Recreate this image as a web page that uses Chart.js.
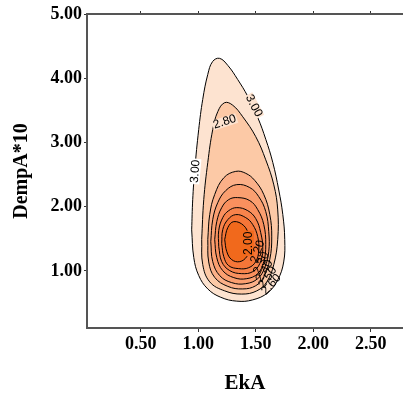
<!DOCTYPE html>
<html>
<head>
<meta charset="utf-8">
<script src="https://cdn.jsdelivr.net/npm/chart.js@4.4.1/dist/chart.umd.min.js"></script>
<style>
  html, body { margin: 0; padding: 0; background: #fff; }
  canvas { display: block; }
</style>
</head>
<body>
<canvas id="contour" width="403" height="398"></canvas>
<script>
const xTicks = [0.5, 1.0, 1.5, 2.0, 2.5];
const yTicks = [1, 2, 3, 4, 5];
const levels = ["3.00", "2.80", "2.60", "2.50", "2.40", "2.30", "2.20", "2.00"];

// contour outlines, outer to inner, [EkA, DempA*10]
const c300 = [[0.943,1.64],[0.952,2.11],[0.970,2.58],[1.004,3.20],[1.039,3.67],[1.083,4.06],[1.125,4.26],[1.185,4.31],[1.257,4.20],[1.343,3.98],[1.430,3.72],[1.517,3.39],[1.587,3.05],[1.648,2.69],[1.700,2.26],[1.735,1.88],[1.752,1.49],[1.743,1.14],[1.691,0.86],[1.604,0.66],[1.474,0.55],[1.335,0.53],[1.196,0.59],[1.083,0.72],[1.004,0.93],[0.961,1.21],[0.943,1.64]];
const c280 = [[1.030,1.49],[1.048,2.11],[1.083,2.69],[1.126,3.20],[1.170,3.48],[1.230,3.62],[1.300,3.58],[1.387,3.40],[1.500,3.09],[1.587,2.73],[1.657,2.34],[1.691,1.95],[1.691,1.49],[1.657,1.10],[1.596,0.83],[1.509,0.69],[1.378,0.64],[1.230,0.69],[1.100,0.83],[1.039,1.10],[1.030,1.49]];
const c260 = [[1.083,1.49],[1.100,1.88],[1.143,2.19],[1.222,2.45],[1.326,2.55],[1.413,2.52],[1.491,2.41],[1.570,2.19],[1.622,1.88],[1.639,1.53],[1.622,1.18],[1.570,0.91],[1.500,0.77],[1.387,0.72],[1.257,0.76],[1.143,0.90],[1.091,1.14],[1.083,1.49]];
const c250 = [[1.109,1.456],[1.126,1.799],[1.170,2.064],[1.239,2.251],[1.335,2.344],[1.448,2.298],[1.526,2.157],[1.587,1.924],[1.613,1.612],[1.613,1.301],[1.578,1.051],[1.517,0.880],[1.413,0.802],[1.291,0.818],[1.187,0.927],[1.126,1.145],[1.109,1.456]];
const c240 = [[1.143,1.488],[1.161,1.768],[1.204,1.986],[1.265,2.111],[1.343,2.142],[1.448,2.095],[1.517,1.955],[1.570,1.721],[1.587,1.410],[1.570,1.145],[1.517,0.958],[1.422,0.880],[1.309,0.896],[1.213,1.005],[1.161,1.207],[1.143,1.488]];
const c230 = [[1.178,1.379],[1.178,1.628],[1.213,1.830],[1.265,1.939],[1.335,1.986],[1.430,1.939],[1.500,1.815],[1.543,1.597],[1.561,1.332],[1.535,1.114],[1.474,0.989],[1.378,0.958],[1.274,1.005],[1.204,1.145],[1.178,1.379]];
const c220 = [[1.204,1.425],[1.213,1.643],[1.257,1.799],[1.326,1.877],[1.413,1.830],[1.474,1.721],[1.517,1.534],[1.526,1.316],[1.500,1.145],[1.439,1.051],[1.352,1.036],[1.265,1.082],[1.222,1.223],[1.204,1.425]];
const c200 = [[1.230,1.488],[1.257,1.675],[1.309,1.768],[1.396,1.706],[1.439,1.550],[1.448,1.363],[1.422,1.223],[1.361,1.145],[1.291,1.176],[1.248,1.301],[1.230,1.488]];
const contours = [c300, c280, c260, c250, c240, c230, c220, c200];

// contour labels
const labelText = ["3.00", "3.00", "2.80", "2.00", "2.20", "2.30", "2.40", "2.50", "2.60"];
const labelX = [0.975, 1.483, 1.230, 1.440, 1.517, 1.550, 1.575, 1.604, 1.635];
const labelY = [2.55, 3.57, 3.32, 1.43, 1.30, 1.12, 1.00, 0.90, 0.79];
const labelAngle = [-85, 62, -18, -90, -72, -65, -60, -55, -48];

const fills = ["#fde3d0", "#fcc9a6", "#fbb088", "#fa9f70", "#f9905e", "#f7834b", "#f57638", "#f1691c"];
const labelBg = ["#ffffff", "#fde3d0", "#fde3d0", "#f1691c", null, null, null, null, null];
const serif = "'Liberation Serif', 'DejaVu Serif', serif";

const shapeFill = {
  id: "shapeFill",
  beforeDatasetsDraw(chart) {
    const ctx = chart.ctx;
    const a = chart.chartArea;
    ctx.save();
    ctx.beginPath();
    ctx.rect(a.left, a.top, a.right - a.left, a.bottom - a.top);
    ctx.clip();
    contours.forEach((_, i) => {
      const line = chart.getDatasetMeta(i).dataset;
      ctx.beginPath();
      line.path(ctx);
      ctx.closePath();
      ctx.fillStyle = fills[i];
      ctx.fill();
    });
    ctx.restore();
  }
};

const contourLabels = {
  id: "contourLabels",
  afterDatasetsDraw(chart) {
    const ctx = chart.ctx;
    const xs = chart.scales.x, ys = chart.scales.y;
    ctx.save();
    ctx.font = "12px 'Liberation Sans', Arial, sans-serif";
    ctx.textAlign = "center";
    ctx.textBaseline = "middle";
    labelText.forEach((t, i) => {
      const px = xs.getPixelForValue(labelX[i]);
      const py = ys.getPixelForValue(labelY[i]);
      ctx.save();
      ctx.translate(px, py);
      ctx.rotate(labelAngle[i] * Math.PI / 180);
      const w = ctx.measureText(t).width;
      if (labelBg[i]) {
        ctx.fillStyle = labelBg[i];
        ctx.fillRect(-w / 2 - 1, -5, w + 2, 10);
      }
      ctx.fillStyle = "#000";
      ctx.fillText(t, 0, 0);
      ctx.restore();
    });
    ctx.restore();
  }
};

const fixedTicks = (vals) => (axis) => { axis.ticks = vals.map(v => ({ value: v })); };
const axisBorder = { display: true, color: "#555", width: 2 };
const tickFont = { family: serif, size: 18, weight: "bold" };

new Chart(document.getElementById("contour"), {
  type: "line",
  data: {
    datasets: contours.map((pts, i) => ({
      label: levels[i],
      data: pts.map(([x, y]) => ({ x, y })),
      borderColor: "#000",
      borderWidth: 1,
      fill: false,
      tension: 0.4,
      pointRadius: 0,
    })),
  },
  options: {
    responsive: false,
    animation: false,
    events: [],
    layout: { padding: { left: 0, right: 0, top: 0, bottom: 0 } },
    plugins: { legend: { display: false }, tooltip: { enabled: false } },
    scales: {
      x: {
        type: "linear",
        position: "bottom",
        min: 0.033,
        max: 2.78,
        afterBuildTicks: fixedTicks(xTicks),
        afterFit: (s) => { s.height = 70; },
        grid: { drawOnChartArea: false, tickLength: 4, color: "#333" },
        border: axisBorder,
        ticks: { color: "#000", font: tickFont, padding: 2, maxRotation: 0, callback: (v) => v.toFixed(2) },
        title: { display: true, text: "EkA", color: "#000", font: { family: serif, size: 21, weight: "bold" }, padding: { top: 0, bottom: 2 } },
      },
      xTop: {
        type: "linear",
        position: "top",
        min: 0.033,
        max: 2.78,
        afterBuildTicks: fixedTicks(xTicks),
        afterFit: (s) => { s.height = 14; },
        grid: { drawOnChartArea: false, tickLength: 3, color: "#333" },
        border: axisBorder,
        ticks: { display: false },
      },
      y: {
        type: "linear",
        position: "left",
        min: 0.112,
        max: 5.0,
        afterBuildTicks: fixedTicks(yTicks),
        afterFit: (s) => { s.width = 87; },
        grid: { drawOnChartArea: false, tickLength: 3, color: "#333" },
        border: axisBorder,
        ticks: { color: "#000", font: tickFont, padding: 2, callback: (v) => v.toFixed(2) },
        title: { display: true, text: "DempA*10", color: "#000", font: { family: serif, size: 20, weight: "bold" }, padding: { top: 10, bottom: 0 } },
      },
    },
  },
  plugins: [shapeFill, contourLabels],
});
</script>
</body>
</html>
